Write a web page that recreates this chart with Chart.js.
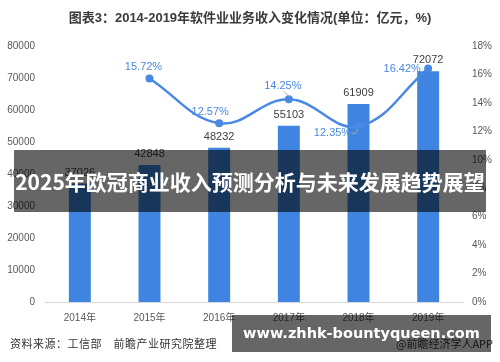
<!DOCTYPE html>
<html><head><meta charset="utf-8">
<script src="https://cdn.jsdelivr.net/npm/chart.js@4/dist/chart.umd.min.js"></script>
<style>
html,body{margin:0;padding:0;background:#fff;width:500px;height:362px;overflow:hidden;font-family:"Liberation Sans","Noto Sans CJK SC",sans-serif;}
#wrap{position:absolute;left:0;top:0;width:500px;height:362px;}
#title{position:absolute;left:0;top:7px;width:500px;text-align:center;font-size:13px;font-weight:bold;color:#3a3a3a;font-family:"Liberation Sans","Noto Sans CJK SC",sans-serif;}
#src{position:absolute;left:10px;top:335px;font-size:11px;color:#333;font-family:"Noto Sans CJK SC",sans-serif;letter-spacing:0.5px;}
#app{position:absolute;left:396px;top:335px;font-size:11px;color:#333;font-family:"Noto Sans CJK SC",sans-serif;}
#banner{position:absolute;left:14px;top:150px;width:472px;height:62px;background:rgba(0,0,0,0.6);color:#fff;font-family:"Noto Sans CJK SC",sans-serif;font-weight:bold;font-size:21px;line-height:62px;text-align:center;white-space:nowrap;overflow:hidden;}
#wm{position:absolute;left:232px;top:315px;width:259px;height:37px;background:rgba(0,0,0,0.6);color:#fff;font-family:"DejaVu Sans",sans-serif;font-weight:bold;font-size:14.5px;line-height:37px;text-align:center;white-space:nowrap;overflow:hidden;}
canvas{position:absolute;left:0;top:0;}
</style></head>
<body><div id="wrap">
<canvas id="c" width="500" height="362"></canvas>
<div id="title">图表3：2014-2019年软件业业务收入变化情况(单位：亿元，%)</div>
<div id="src">资料来源：工信部　前瞻产业研究院整理</div>
<div id="app">@前瞻经济学人APP</div>
<div id="banner">2025年欧冠商业收入预测分析与未来发展趋势展望</div>
<div id="wm">www.zhhk-bountyqueen.com</div>
</div>
<script>
const categories = ["2014年","2015年","2016年","2017年","2018年","2019年"];
const revenue = [37026, 42848, 48232, 55103, 61909, 72072];
const growth = [null, 15.72, 12.57, 14.25, 12.35, 16.42];
const growthLabelOffsets = [null, [-6,-11], [-9,-11], [-6,-13], [-26,7], [-26,0]];

const barColor = "#3e84e0";
const lineColor = "#4a89e3";
const FONT = "'Liberation Sans','Noto Sans CJK SC',sans-serif";

const labelPlugin = {
  id: "labels",
  afterDatasetsDraw(chart) {
    const ctx = chart.ctx;
    ctx.save();
    ctx.textAlign = "center";
    ctx.textBaseline = "middle";
    const bm = chart.getDatasetMeta(0);
    ctx.font = "11px " + FONT;
    ctx.fillStyle = "#404040";
    bm.data.forEach((el, i) => {
      ctx.fillText(String(revenue[i]), el.x, el.y - 11);
    });
    const lm = chart.getDatasetMeta(1);
    ctx.fillStyle = "#4a89e3";
    lm.data.forEach((el, i) => {
      if (growth[i] == null) return;
      const o = growthLabelOffsets[i];
      const tx = el.x + o[0], ty = el.y + o[1];
      if (i === 3) {
        ctx.strokeStyle = "#a6a6a6"; ctx.lineWidth = 1;
        ctx.beginPath(); ctx.moveTo(el.x - 5, el.y - 8); ctx.lineTo(el.x, el.y - 3); ctx.stroke();
      }
      if (i === 4) {
        ctx.strokeStyle = "#a6a6a6"; ctx.lineWidth = 1;
        ctx.beginPath(); ctx.moveTo(el.x - 7, el.y + 7); ctx.lineTo(el.x - 3, el.y + 7); ctx.lineTo(el.x - 1, el.y + 3); ctx.stroke();
      }
      ctx.fillText(growth[i].toFixed(2) + "%", tx, ty);
    });
    ctx.restore();
  }
};

new Chart(document.getElementById("c"), {
  data: {
    labels: categories,
    datasets: [
      { type: "bar", data: revenue, backgroundColor: barColor, yAxisID: "y",
        barPercentage: 0.63, categoryPercentage: 0.5, order: 2 },
      { type: "line", data: growth, yAxisID: "y1", borderColor: lineColor, backgroundColor: lineColor,
        borderWidth: 2.5, tension: 0.4, pointRadius: 4, pointBackgroundColor: lineColor,
        pointBorderWidth: 0, order: 1 }
    ]
  },
  options: {
    responsive: false, animation: false, devicePixelRatio: 1,
    layout: { padding: { top: 46, left: 0, right: 0, bottom: 0 } },
    plugins: { legend: { display: false }, tooltip: { enabled: false } },
    scales: {
      x: {
        grid: { display: false, drawTicks: false },
        border: { display: true, color: "#d9d9d9", width: 1 },
        ticks: { color: "#595959", font: { size: 10, family: FONT }, padding: 10 },
        afterFit(s) { s.height = 60; }
      },
      y: {
        position: "left", min: 0, max: 80000,
        grid: { display: false, drawTicks: false },
        border: { display: false },
        ticks: { stepSize: 10000, color: "#595959", font: { size: 10, family: FONT }, padding: 10,
          callback: v => String(v) },
        afterFit(s) { s.width = 45; }
      },
      y1: {
        position: "right", min: 0, max: 18,
        grid: { display: false, drawTicks: false },
        border: { display: false },
        ticks: { stepSize: 2, color: "#595959", font: { size: 10, family: FONT }, padding: 9,
          callback: v => v + "%" },
        afterFit(s) { s.width = 37; }
      }
    }
  },
  plugins: [labelPlugin]
});
</script>
</body></html>
